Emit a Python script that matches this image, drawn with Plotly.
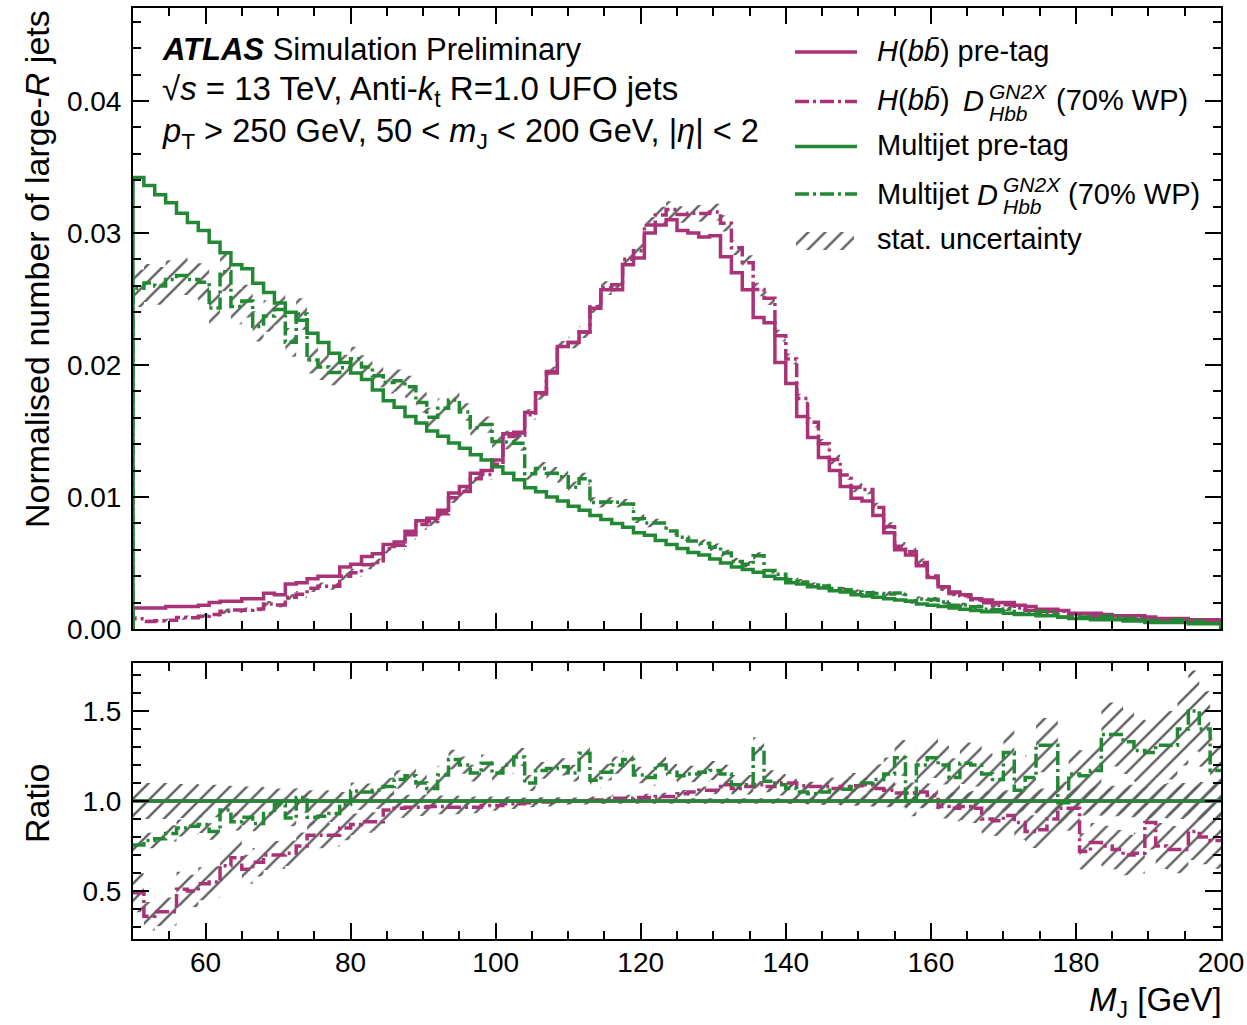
import numpy as np
import plotly.graph_objects as go

# ---------------- data ----------------
BIN_LOW = 50.0
BIN_HIGH = 200.0
N_BINS = 100

# H(bb) pre-tag normalised distribution (per 1.5 GeV bin)
H_PRETAG = [
    0.0016, 0.0016, 0.0016, 0.0017, 0.0017, 0.0017, 0.0018, 0.0020, 0.0021, 0.0021,
    0.0023, 0.0023, 0.0027, 0.0026, 0.0034, 0.0035, 0.0038, 0.0040, 0.0040, 0.0047,
    0.0049, 0.0055, 0.0057, 0.0064, 0.0066, 0.0074, 0.0082, 0.0084, 0.0090, 0.0103,
    0.0108, 0.0118, 0.0120, 0.0128, 0.0148, 0.0149, 0.0164, 0.0179, 0.0195, 0.0214,
    0.0217, 0.0225, 0.0243, 0.0257, 0.0257, 0.0276, 0.0281, 0.0300, 0.0306, 0.0310,
    0.0302, 0.0300, 0.0297, 0.0298, 0.0282, 0.0270, 0.0257, 0.0236, 0.0232, 0.0202,
    0.0186, 0.0161, 0.0145, 0.0130, 0.0120, 0.0108, 0.0099, 0.0097, 0.0086, 0.0073,
    0.0060, 0.0056, 0.0048, 0.0039, 0.0032, 0.0028, 0.0026, 0.0023, 0.0022, 0.0020,
    0.0020, 0.0018, 0.0017, 0.0015, 0.0015, 0.0014, 0.0012, 0.0012, 0.0012, 0.0011,
    0.0010, 0.0010, 0.0010, 0.0009, 0.0008, 0.0008, 0.0008, 0.0007, 0.0007, 0.0007,
]

# Multijet pre-tag normalised distribution
MJ_PRETAG = [
    0.0342, 0.0336, 0.0329, 0.0323, 0.0315, 0.0308, 0.0302, 0.0293, 0.0285, 0.0276,
    0.0273, 0.0262, 0.0255, 0.0247, 0.0240, 0.0234, 0.0224, 0.0217, 0.0209, 0.0202,
    0.0194, 0.0189, 0.0181, 0.0173, 0.0168, 0.0161, 0.0156, 0.0150, 0.0146, 0.0141,
    0.0137, 0.0132, 0.0128, 0.0123, 0.0118, 0.0113, 0.0107, 0.0104, 0.0100, 0.0097,
    0.0093, 0.0090, 0.0086, 0.0083, 0.0080, 0.0077, 0.0073, 0.0071, 0.0067, 0.0064,
    0.0061, 0.0058, 0.0056, 0.0053, 0.0050, 0.0047, 0.0045, 0.0043, 0.0040, 0.0038,
    0.0035, 0.0034, 0.0032, 0.0031, 0.0029, 0.0028, 0.0026, 0.0025, 0.0024, 0.0023,
    0.0022, 0.0021, 0.0019, 0.0018, 0.0017, 0.0016, 0.0015, 0.0014, 0.0013, 0.0013,
    0.0012, 0.0011, 0.0011, 0.0010, 0.0010, 0.0009, 0.0008, 0.0008, 0.0007, 0.0007,
    0.0007, 0.0006, 0.0006, 0.0005, 0.0005, 0.0005, 0.0005, 0.0004, 0.0004, 0.0004,
]

# Ratio tagged / pre-tag, H(bb)
H_TAG_RATIO = [
    0.49, 0.36, 0.385, 0.385, 0.51, 0.50, 0.54, 0.55, 0.64, 0.685,
    0.62, 0.66, 0.70, 0.70, 0.71, 0.75, 0.81, 0.81, 0.81, 0.85,
    0.87, 0.885, 0.885, 0.95, 0.96, 0.965, 0.965, 0.97, 0.97, 0.965,
    0.965, 0.965, 0.975, 0.975, 0.985, 0.985, 0.99, 0.995, 0.995, 1.0,
    1.0, 1.0, 1.005, 1.005, 1.015, 1.015, 1.02, 1.02, 1.025, 1.025,
    1.04, 1.05, 1.06, 1.06, 1.09, 1.07, 1.08, 1.09, 1.08, 1.10,
    1.10, 1.085, 1.08, 1.08, 1.07, 1.08, 1.085, 1.09, 1.07, 1.06,
    1.045, 1.045, 1.05, 1.03, 0.97, 0.96, 0.97, 0.96, 0.90, 0.89,
    0.92, 0.88, 0.83, 0.84, 0.90, 0.96, 0.96, 0.72, 0.77, 0.75,
    0.73, 0.70, 0.71, 0.88, 0.75, 0.73, 0.73, 0.83, 0.80, 0.78,
]

# Ratio tagged / pre-tag, multijet
MJ_TAG_RATIO = [
    0.755, 0.78, 0.79, 0.82, 0.85, 0.86, 0.87, 0.83, 0.95, 0.885,
    0.91, 0.875, 0.93, 0.98, 0.905, 1.02, 0.91, 0.915, 0.93, 0.98,
    1.055, 1.05, 1.06, 1.08, 1.12, 1.14, 1.10, 1.07, 1.145, 1.23,
    1.20, 1.155, 1.21, 1.155, 1.20, 1.245, 1.10, 1.17, 1.18, 1.19,
    1.155, 1.265, 1.115, 1.16, 1.20, 1.23, 1.145, 1.13, 1.20, 1.16,
    1.14, 1.15, 1.16, 1.17, 1.15, 1.09, 1.09, 1.29, 1.11, 1.09,
    1.07, 1.05, 1.04, 1.05, 1.06, 1.065, 1.08, 1.10, 1.12, 1.15,
    1.24, 1.00, 1.20, 1.24, 1.20, 1.13, 1.21, 1.20, 1.15, 1.12,
    1.27, 1.06, 1.13, 1.31, 1.31, 0.99, 1.15, 1.14, 1.17, 1.37,
    1.37, 1.33, 1.28, 1.27, 1.31, 1.31, 1.40, 1.50, 1.40, 1.17,
]

# relative statistical uncertainties
H_PRETAG_RELUNC = [
    0.105, 0.10, 0.10, 0.10, 0.095, 0.095, 0.09, 0.09, 0.085, 0.085,
    0.08, 0.08, 0.075, 0.07, 0.07, 0.065, 0.06, 0.06, 0.055, 0.05,
    0.05, 0.045, 0.045, 0.04, 0.04, 0.035, 0.035, 0.03, 0.03, 0.03,
    0.025, 0.025, 0.025, 0.025, 0.025, 0.02, 0.02, 0.02, 0.02, 0.02,
    0.015, 0.015, 0.015, 0.015, 0.015, 0.015, 0.015, 0.015, 0.015, 0.015,
    0.015, 0.015, 0.015, 0.015, 0.015, 0.015, 0.015, 0.015, 0.015, 0.015,
    0.015, 0.015, 0.02, 0.02, 0.02, 0.025, 0.025, 0.03, 0.03, 0.035,
    0.035, 0.04, 0.04, 0.045, 0.045, 0.05, 0.05, 0.055, 0.055, 0.06,
    0.06, 0.065, 0.065, 0.07, 0.07, 0.075, 0.075, 0.08, 0.08, 0.085,
    0.085, 0.09, 0.09, 0.095, 0.095, 0.10, 0.10, 0.10, 0.105, 0.105,
]
MJ_PRETAG_RELUNC = [
    0.006, 0.006, 0.006, 0.006, 0.006, 0.006, 0.006, 0.006, 0.006, 0.006,
    0.006, 0.006, 0.006, 0.006, 0.006, 0.006, 0.006, 0.006, 0.006, 0.006,
    0.006, 0.006, 0.006, 0.006, 0.006, 0.006, 0.006, 0.006, 0.006, 0.006,
    0.006, 0.006, 0.006, 0.006, 0.006, 0.006, 0.006, 0.006, 0.006, 0.006,
    0.01, 0.01, 0.01, 0.01, 0.01, 0.01, 0.01, 0.01, 0.01, 0.01,
    0.01, 0.01, 0.01, 0.01, 0.01, 0.01, 0.01, 0.01, 0.01, 0.01,
    0.015, 0.015, 0.02, 0.02, 0.02, 0.025, 0.025, 0.025, 0.03, 0.03,
    0.03, 0.035, 0.035, 0.04, 0.04, 0.04, 0.045, 0.045, 0.05, 0.05,
    0.05, 0.055, 0.055, 0.06, 0.06, 0.06, 0.065, 0.065, 0.07, 0.07,
    0.07, 0.075, 0.075, 0.08, 0.08, 0.08, 0.085, 0.085, 0.09, 0.09,
]
H_TAG_RELUNC = [
    0.22, 0.22, 0.21, 0.20, 0.19, 0.18, 0.17, 0.16, 0.15, 0.14,
    0.13, 0.12, 0.12, 0.11, 0.10, 0.10, 0.09, 0.09, 0.08, 0.08,
    0.07, 0.07, 0.06, 0.06, 0.055, 0.05, 0.05, 0.045, 0.045, 0.04,
    0.04, 0.035, 0.035, 0.03, 0.03, 0.03, 0.025, 0.025, 0.025, 0.02,
    0.02, 0.02, 0.02, 0.02, 0.02, 0.02, 0.02, 0.02, 0.02, 0.02,
    0.02, 0.02, 0.02, 0.02, 0.02, 0.02, 0.02, 0.02, 0.02, 0.02,
    0.02, 0.02, 0.025, 0.025, 0.03, 0.03, 0.035, 0.035, 0.04, 0.045,
    0.05, 0.055, 0.06, 0.065, 0.07, 0.075, 0.08, 0.085, 0.09, 0.095,
    0.10, 0.11, 0.11, 0.12, 0.12, 0.13, 0.13, 0.14, 0.14, 0.15,
    0.15, 0.16, 0.16, 0.17, 0.17, 0.18, 0.18, 0.19, 0.19, 0.20,
]
MJ_TAG_RELUNC = [
    0.055, 0.055, 0.055, 0.055, 0.055, 0.055, 0.055, 0.055, 0.055, 0.055,
    0.05, 0.05, 0.05, 0.05, 0.05, 0.05, 0.05, 0.05, 0.05, 0.05,
    0.045, 0.045, 0.045, 0.045, 0.045, 0.045, 0.045, 0.045, 0.045, 0.045,
    0.04, 0.04, 0.04, 0.04, 0.04, 0.04, 0.04, 0.04, 0.04, 0.04,
    0.04, 0.04, 0.04, 0.04, 0.04, 0.04, 0.04, 0.04, 0.04, 0.04,
    0.04, 0.04, 0.045, 0.045, 0.045, 0.05, 0.05, 0.05, 0.055, 0.055,
    0.055, 0.06, 0.06, 0.065, 0.065, 0.07, 0.07, 0.075, 0.075, 0.08,
    0.08, 0.085, 0.085, 0.09, 0.09, 0.095, 0.095, 0.10, 0.10, 0.105,
    0.105, 0.11, 0.11, 0.115, 0.115, 0.12, 0.12, 0.125, 0.125, 0.13,
    0.13, 0.135, 0.135, 0.14, 0.14, 0.145, 0.145, 0.15, 0.15, 0.15,
]

X_TICKS = [60, 80, 100, 120, 140, 160, 180, 200]
TOP_Y_TICKS = [0.00, 0.01, 0.02, 0.03, 0.04]
RATIO_Y_TICKS = [0.5, 1.0, 1.5]
X_RANGE = [50, 200]
TOP_Y_RANGE = [0.0, 0.04705]
RATIO_Y_RANGE = [0.233, 1.767]

# ---------------- style ----------------
MAGENTA = "#AA3377"
GREEN = "#228833"
HATCH = "rgb(95,95,95)"
FONT = "Liberation Sans, Arial, Helvetica, sans-serif"
DASHDOT = "14px,4px,3px,4px"
LW = 3.5

W, H = 1247, 1025
PL, PR, PT, PB = 133, 1221, 8, 939          # plot area in pixels
TOP_BOTTOM_PX, RATIO_TOP_PX = 629, 663


def px(xp):
    return (xp - PL) / (PR - PL)


def py(yp):
    return (PB - yp) / (PB - PT)


edges = np.linspace(BIN_LOW, BIN_HIGH, N_BINS + 1)
h_pre = np.array(H_PRETAG)
mj_pre = np.array(MJ_PRETAG)
h_ratio = np.array(H_TAG_RATIO)
mj_ratio = np.array(MJ_TAG_RATIO)
h_tag = h_pre * h_ratio
mj_tag = mj_pre * mj_ratio


def step_xy(vals, drop=True):
    v = list(vals)
    if drop:
        x = [edges[0]] + list(edges[:-1]) + [edges[-1], edges[-1]]
        y = [0.0] + v + [v[-1], 0.0]
    else:
        x = list(edges[:-1]) + [edges[-1]]
        y = v + [v[-1]]
    return x, y


def band_xy(lo, hi):
    xs, ys = [], []
    for i in range(N_BINS):
        xs += [edges[i], edges[i + 1]]
        ys += [hi[i], hi[i]]
    for i in reversed(range(N_BINS)):
        xs += [edges[i + 1], edges[i]]
        ys += [lo[i], lo[i]]
    xs.append(xs[0])
    ys.append(ys[0])
    return xs, ys


def hatch_trace(xs, ys, xa, ya):
    return go.Scatter(
        x=xs, y=ys, xaxis=xa, yaxis=ya, mode="lines", line=dict(width=0),
        fill="toself", fillcolor="rgba(0,0,0,0)",
        fillpattern=dict(shape="/", fgcolor=HATCH, fgopacity=1.0,
                         bgcolor="rgba(0,0,0,0)", size=12, solidity=0.2),
        hoverinfo="skip", showlegend=False)


def line_trace(xs, ys, color, dash, xa, ya):
    return go.Scatter(
        x=xs, y=ys, xaxis=xa, yaxis=ya, mode="lines", line_shape="hv",
        line=dict(color=color, width=LW, dash=dash),
        hoverinfo="skip", showlegend=False)


fig = go.Figure()

# ---- top panel ----
for tag, rel in ((h_tag, np.array(H_TAG_RELUNC)), (mj_tag, np.array(MJ_TAG_RELUNC))):
    xs, ys = band_xy(tag * (1 - rel), tag * (1 + rel))
    fig.add_trace(hatch_trace(xs, ys, "x2", "y2"))

fig.add_trace(line_trace(*step_xy(h_pre), MAGENTA, "solid", "x2", "y2"))
fig.add_trace(line_trace(*step_xy(h_tag), MAGENTA, DASHDOT, "x2", "y2"))
fig.add_trace(line_trace(*step_xy(mj_pre), GREEN, "solid", "x2", "y2"))
fig.add_trace(line_trace(*step_xy(mj_tag), GREEN, DASHDOT, "x2", "y2"))

# ---- ratio panel ----
h_pre_ratio = h_pre / h_pre
mj_pre_ratio = mj_pre / mj_pre
for cen, rel in ((h_pre_ratio, np.array(H_PRETAG_RELUNC)),
                 (mj_pre_ratio, np.array(MJ_PRETAG_RELUNC)),
                 (h_ratio, np.array(H_TAG_RELUNC)),
                 (mj_ratio, np.array(MJ_TAG_RELUNC))):
    xs, ys = band_xy(cen * (1 - rel), cen * (1 + rel))
    fig.add_trace(hatch_trace(xs, ys, "x", "y"))

fig.add_trace(line_trace(*step_xy(h_pre_ratio, drop=False), MAGENTA, "solid", "x", "y"))
fig.add_trace(line_trace(*step_xy(h_ratio, drop=False), MAGENTA, DASHDOT, "x", "y"))
fig.add_trace(line_trace(*step_xy(mj_ratio, drop=False), GREEN, DASHDOT, "x", "y"))
fig.add_trace(line_trace(*step_xy(mj_pre_ratio, drop=False), GREEN, "solid", "x", "y"))

# ---- legend hatch key (on a transparent full-area helper axis) ----
kx0, kx1, ky0, ky1 = px(796), px(854), py(250), py(232)
fig.add_trace(hatch_trace([kx0, kx1, kx1, kx0, kx0], [ky0, ky0, ky1, ky1, ky0], "x3", "y3"))

# ---------------- axes ----------------
axis_common = dict(
    showline=True, linecolor="black", linewidth=2, mirror="ticks",
    ticks="inside", ticklen=16, tickwidth=2, tickcolor="black",
    showgrid=False, zeroline=False, automargin=False,
    tickfont=dict(family=FONT, size=28, color="black"),
)

fig.update_layout(
    width=W, height=H, autosize=False,
    margin=dict(l=PL, r=W - PR, t=PT, b=H - PB, pad=0, autoexpand=False),
    paper_bgcolor="white", plot_bgcolor="rgba(0,0,0,0)", showlegend=False,
    font=dict(family=FONT, size=28, color="black"),
    xaxis=dict(domain=[0, 1], anchor="y", range=X_RANGE, tickmode="array",
               tickvals=X_TICKS, ticktext=[str(v) for v in X_TICKS],
               ticklabelstandoff=-3,
               minor=dict(tickmode="linear", tick0=0, dtick=5, ticks="inside",
                          ticklen=8, tickwidth=1.5, tickcolor="black", showgrid=False),
               **axis_common),
    yaxis=dict(domain=[0, py(RATIO_TOP_PX)], anchor="x", range=RATIO_Y_RANGE,
               tickmode="array", tickvals=RATIO_Y_TICKS,
               ticktext=[f"{v:.1f}" for v in RATIO_Y_TICKS], ticklabelstandoff=4,
               minor=dict(tickmode="linear", tick0=0, dtick=0.1, ticks="inside",
                          ticklen=8, tickwidth=1.5, tickcolor="black", showgrid=False),
               **axis_common),
    xaxis2=dict(domain=[0, 1], anchor="y2", range=X_RANGE, matches="x",
                tickmode="array", tickvals=X_TICKS, showticklabels=False,
                minor=dict(tickmode="linear", tick0=0, dtick=5, ticks="inside",
                           ticklen=8, tickwidth=1.5, tickcolor="black", showgrid=False),
                **axis_common),
    yaxis2=dict(domain=[py(TOP_BOTTOM_PX), 1], anchor="x2", range=TOP_Y_RANGE,
                tickmode="array", tickvals=TOP_Y_TICKS,
                ticktext=[f"{v:.2f}" for v in TOP_Y_TICKS], ticklabelstandoff=4,
                minor=dict(tickmode="linear", tick0=0, dtick=0.002, ticks="inside",
                           ticklen=8, tickwidth=1.5, tickcolor="black", showgrid=False),
                **axis_common),
    xaxis3=dict(domain=[0, 1], anchor="y3", range=[0, 1], visible=False,
                fixedrange=True, automargin=False),
    yaxis3=dict(domain=[0, 1], anchor="x3", range=[0, 1], visible=False,
                fixedrange=True, automargin=False),
)

# ---------------- texts ----------------
def ann(text, x, y, size=29, xanchor="left", yanchor="middle", angle=0):
    return dict(text=text, x=x, y=y, xref="paper", yref="paper", xanchor=xanchor,
                yanchor=yanchor, textangle=angle, showarrow=False,
                font=dict(family=FONT, size=size, color="black"))


annotations = [
    ann("Normalised number of large-<i>R</i> jets", px(37), 1.0, size=34,
        xanchor="center", yanchor="top", angle=-90),
    ann("Ratio", px(37), py(804), size=34, xanchor="center", angle=-90),
    ann("<i>M</i><sub>J</sub> [GeV]", px(1224), py(1002), size=33, xanchor="right"),
    ann("<b><i>ATLAS</i></b> Simulation Preliminary", px(160), py(49), size=31),
    ann("√<i>s</i> = 13 TeV, Anti-<i>k</i><sub>t</sub> R=1.0 UFO jets",
        px(160), py(91), size=33),
    ann("<i>p</i><sub>T</sub> &gt; 250 GeV, 50 &lt; <i>m</i><sub>J</sub> &lt; 200 GeV, |<i>η</i>| &lt; 2",
        px(160), py(133), size=32.6),
    # legend texts
    ann("<i>H</i>(<i>bb\u0304</i>) pre-tag", px(875), py(51)),
    ann("<i>H</i>(<i>bb\u0304</i>)", px(875), py(100)),
    ann("<i>D</i>", px(961), py(101)),
    ann("<i>GN2X</i>", px(987), py(91), size=21),
    ann("<i>Hbb</i>", px(987), py(113), size=21),
    ann("(70% WP)", px(1054), py(100)),
    ann("Multijet pre-tag", px(875), py(145)),
    ann("Multijet", px(875), py(194)),
    ann("<i>D</i>", px(975), py(195)),
    ann("<i>GN2X</i>", px(1001), py(185), size=21),
    ann("<i>Hbb</i>", px(1001), py(207), size=21),
    ann("(70% WP)", px(1066), py(194)),
    ann("stat. uncertainty", px(875), py(239)),
]
fig.update_layout(annotations=annotations)

# legend line samples
shapes = []
for yline, color, dash in ((52, MAGENTA, "solid"), (101.5, MAGENTA, DASHDOT),
                           (146.5, GREEN, "solid"), (194, GREEN, DASHDOT)):
    shapes.append(dict(type="line", xref="paper", yref="paper",
                       x0=px(795), x1=px(857), y0=py(yline), y1=py(yline),
                       line=dict(color=color, width=LW, dash=dash)))
fig.update_layout(shapes=shapes)

fig.write_html(
    "out.html",
    config={"displayModeBar": False},
    post_script="document.body.style.margin='0';document.body.style.overflow='hidden';",
)
